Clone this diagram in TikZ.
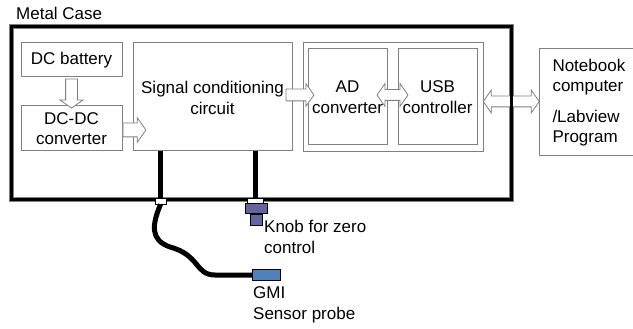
\documentclass[tikz,border=0pt]{standalone}
\usepackage{fontspec}
\setmainfont{Liberation Sans}
\usetikzlibrary{shapes.arrows,positioning,calc}
\definecolor{boxgrey}{HTML}{808080}
\definecolor{knobblue}{HTML}{64649E}
\definecolor{probeblue}{HTML}{4F81BD}

\tikzset{
  unitbox/.style={draw=boxgrey, line width=1pt, fill=white, align=center, inner sep=0pt},
  onearrow/.style={single arrow, draw=boxgrey, fill=white, line width=0.8pt, inner xsep=0pt,
    inner ysep=5.5pt, single arrow head extend=5.5pt, single arrow tip angle=110},
  twoarrow/.style={double arrow, draw=boxgrey, fill=white, line width=0.8pt, inner xsep=0pt,
    inner ysep=5pt, double arrow head extend=6pt, double arrow tip angle=110},
  cable/.style={line width=5pt, black},
  plug/.style={draw=black, line width=0.8pt, inner sep=0pt}
}

\begin{document}
\begin{tikzpicture}[x=1pt, y=-1pt, font=\fontsize{17}{20.5}\selectfont]
  \useasboundingbox (0,0) rectangle (633,329);

  % metal case
  \draw[boxgrey, line width=5pt] (11,27) rectangle (511,199);
  \node[anchor=west, inner sep=0pt] (casetxt) at (16,13) {Metal Case};

  % blocks inside the case
  \node[unitbox, minimum width=101pt, minimum height=34pt] (bat) at (71.5,60) {DC battery};
  \node[unitbox, minimum width=101pt, minimum height=45pt] (dcdc) at (71.5,128.5) {DC-DC\\converter};
  \node[unitbox, minimum width=159pt, minimum height=108pt] (sig) at (212.5,97) {};
  \node[anchor=center, align=center, inner sep=0pt] (sigtxt) at (212.5,98) {Signal conditioning\\circuit};
  \node[unitbox, minimum width=180pt, minimum height=109pt] (conv) at (393,97.5) {};
  \node[unitbox, minimum width=79pt, minimum height=96pt] (adc) at (347.5,97) {AD\\converter};
  \node[unitbox, minimum width=79pt, minimum height=96pt] (usb) at (437.5,97) {USB\\controller};

  % notebook
  \node[unitbox, anchor=west, minimum height=107pt, text width=90pt, inner xsep=13pt, align=left] (pc) at (539,102.5)
    {Notebook\\computer\\[10pt]/Labview\\Program};

  % block arrows
  \node[onearrow, rotate=-90, minimum height=29pt] (a1) at ($(bat.south)!.5!(dcdc.north)$) {};
  \node[onearrow, inner ysep=6.5pt, minimum height=23pt, anchor=tail] (a2) at ($(dcdc.east)+(0,1.5)$) {};
  \node[onearrow, minimum height=28pt, anchor=tail] (a3) at ($(sig.east)+(-7,-2)$) {};
  \node[twoarrow, minimum height=31pt] (a4) at ($($(adc.east)!.5!(usb.west)$)+(0,-2)$) {};
  \node[twoarrow, minimum height=56pt] (a5) at ($($(conv.east)!.5!(pc.west)$)+(0,1.5)$) {};

  % case wall on top
  \draw[black, line width=3pt] (11,27) rectangle (511,199);

  % plugs through the wall
  \node[plug, fill=white, minimum width=11pt, minimum height=6pt] (jack) at (160.5,201) {};
  \node[plug, fill=knobblue, minimum width=22pt, minimum height=10pt] (knob) at (256,208) {};
  \node[plug, fill=white, minimum width=16pt, minimum height=5pt] (knobtop) at (255.5,201) {};
  \node[plug, fill=knobblue, minimum width=12pt, minimum height=11pt] (stem) at (256,219.5) {};
  \node[plug, fill=probeblue, minimum width=28pt, minimum height=11pt, anchor=west] (probe) at (252,275) {};

  % cables
  \draw[cable] (sig.south -| jack) -- (jack.north);
  \draw[cable] (sig.south -| knobtop) -- (knobtop.north);
  \draw[cable] (jack.south) .. controls (152,225) and (150,240) .. (170,247)
    .. controls (200,255) and (195,275) .. (215,275) -- (probe.west);

  % labels
  \node[anchor=west, align=left, inner sep=0pt] (knobtxt) at (264,237) {Knob for zero\\control};
  \node[anchor=west, align=left, inner sep=0pt] (probetxt) at (253,305) {GMI\\Sensor probe};
\end{tikzpicture}
\end{document}
